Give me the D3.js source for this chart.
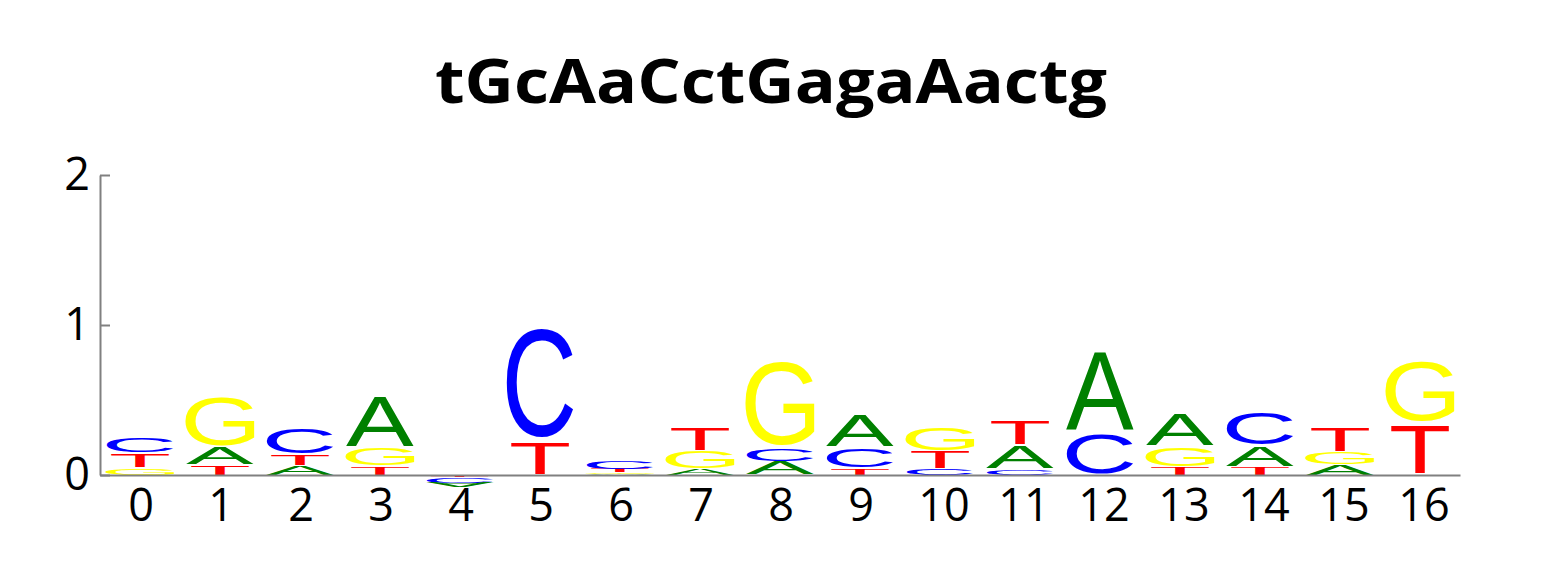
<!DOCTYPE html>
<html>
<head>
<meta charset="utf-8">
<script src="https://cdn.jsdelivr.net/npm/d3@7"></script>
<style>
  body { margin: 0; background: #fff; }
</style>
</head>
<body>
<div id="wrapper"></div>
<script>
// sequence logo data, one array per base (height in bits per position)
const title = "tGcAaCctGagaAactg"
const positions = d3.range(17)
const bases = ["A", "C", "G", "T"]
const valuesA = [0, 0.12, 0.065, 0.352, -0.034, 0, 0.005, 0.042, 0.088, 0.222, 0, 0.158, 0.55, 0.222, 0.138, 0.07, 0]
const valuesC = [0.105, 0, 0.175, 0, -0.032, 0.772, 0.058, 0, 0.088, 0.134, 0.042, 0.04, 0.287, 0, 0.222, 0, 0]
const valuesG = [0.05, 0.345, 0, 0.12, -0.004, 0, 0.013, 0.122, 0.593, 0, 0.163, 0, 0, 0.134, 0, 0.083, 0.423]
const valuesT = [0.095, 0.065, 0.075, 0.058, -0.012, 0.222, 0.022, 0.153, 0, 0.048, 0.117, 0.164, 0, 0.055, 0.055, 0.169, 0.344]
const yTicks = [0, 1, 2]

const colors = { A: "#008000", C: "#0000ff", G: "#ffff00", T: "#ff0000" }
const widthFrac = { A: 0.85, C: 0.83, G: 0.86, T: 0.725 } // glyph width relative to a column
const vpad = 0.07
const glyphFont = "Liberation Sans, Arial, sans-serif"
const numFont = "Open Sans, sans-serif"

function drawLogo() {
    const dims = { width: 1560, height: 575 }

    const svg = d3.select("#wrapper")
        .append("svg")
            .attr("width", dims.width)
            .attr("height", dims.height)

    // scales
    const xScale = d3.scaleBand()
        .domain(positions)
        .range([100, 1460])
    const yScale = d3.scaleLinear()
        .domain([0, 2])
        .range([475, 175])

    // measure the ink box of each letter so it can be stretched to fill its slot
    const fontSize = 200
    const ctx = document.createElement("canvas").getContext("2d")
    ctx.font = `${fontSize}px ${glyphFont}`
    const ink = {}
    bases.forEach(b => {
        const m = ctx.measureText(b)
        ink[b] = {
            left: m.actualBoundingBoxLeft,
            ascent: m.actualBoundingBoxAscent,
            w: m.actualBoundingBoxLeft + m.actualBoundingBoxRight,
            h: m.actualBoundingBoxAscent + m.actualBoundingBoxDescent,
        }
    })

    const table = { A: valuesA, C: valuesC, G: valuesG, T: valuesT }

    // build stacked glyphs per position (smallest nearest the baseline)
    const glyphs = []
    positions.forEach((p, i) => {
        const col = bases.map(b => ({ base: b, value: table[b][i] }))
        const pos = col.filter(d => d.value > 0).sort((a, b) => a.value - b.value)
        const neg = col.filter(d => d.value < 0).sort((a, b) => b.value - a.value)
        let acc = 0
        pos.forEach(d => { glyphs.push({ p, base: d.base, y0: acc, y1: acc + d.value, flip: false }); acc += d.value })
        acc = 0
        neg.forEach(d => { glyphs.push({ p, base: d.base, y0: acc + d.value, y1: acc, flip: true }); acc += d.value })
    })

    const logo = svg.append("g")
    logo.selectAll("text")
        .data(glyphs)
        .join("text")
            .text(d => d.base)
            .attr("font-family", glyphFont)
            .attr("font-size", fontSize)
            .attr("fill", d => colors[d.base])
            .attr("transform", d => {
                const g = ink[d.base]
                const cx = xScale(d.p) + xScale.bandwidth() / 2
                const w = xScale.bandwidth() * widthFrac[d.base]
                const slotTop = yScale(d.y1)
                const slotH = yScale(d.y0) - yScale(d.y1)
                const h = slotH * (1 - vpad)
                const top = slotTop + slotH * vpad / 2
                const sx = w / g.w
                const sy = h / g.h
                if (d.flip) { // negative values are drawn upside down below the axis
                    return `translate(${cx - w / 2},${top + h}) scale(${sx},${-sy}) translate(${g.left},${g.ascent})`
                }
                return `translate(${cx - w / 2},${top}) scale(${sx},${sy}) translate(${g.left},${g.ascent})`
            })

    // y axis
    const yAxis = svg.append("g")
        .attr("transform", "translate(100,0)")
        .call(d3.axisLeft(yScale).tickValues(yTicks).tickFormat(d3.format("d"))
            .tickSizeInner(-10).tickSizeOuter(0).tickPadding(10))
    // x axis
    const xAxis = svg.append("g")
        .attr("transform", "translate(0,475)")
        .call(d3.axisBottom(xScale).tickSize(0).tickPadding(14))

    ;[yAxis, xAxis].forEach(ax => {
        ax.select(".domain").attr("stroke", "#808080").attr("stroke-width", 2)
        ax.selectAll(".tick line").attr("stroke", "#808080").attr("stroke-width", 2)
        ax.selectAll(".tick text")
            .attr("fill", "#000")
            .attr("font-family", numFont)
            .attr("font-size", 45)
    })
    xAxis.selectAll(".tick text").attr("dx", d => d >= 10 ? 4 : 1)

    // title
    svg.append("text")
        .attr("x", 771)
        .attr("y", 103)
        .attr("text-anchor", "middle")
        .attr("font-family", numFont)
        .attr("font-weight", "bold")
        .attr("font-size", 61)
        .attr("textLength", 672)
        .attr("lengthAdjust", "spacingAndGlyphs")
        .text(title)
}

drawLogo()
</script>
</body>
</html>
